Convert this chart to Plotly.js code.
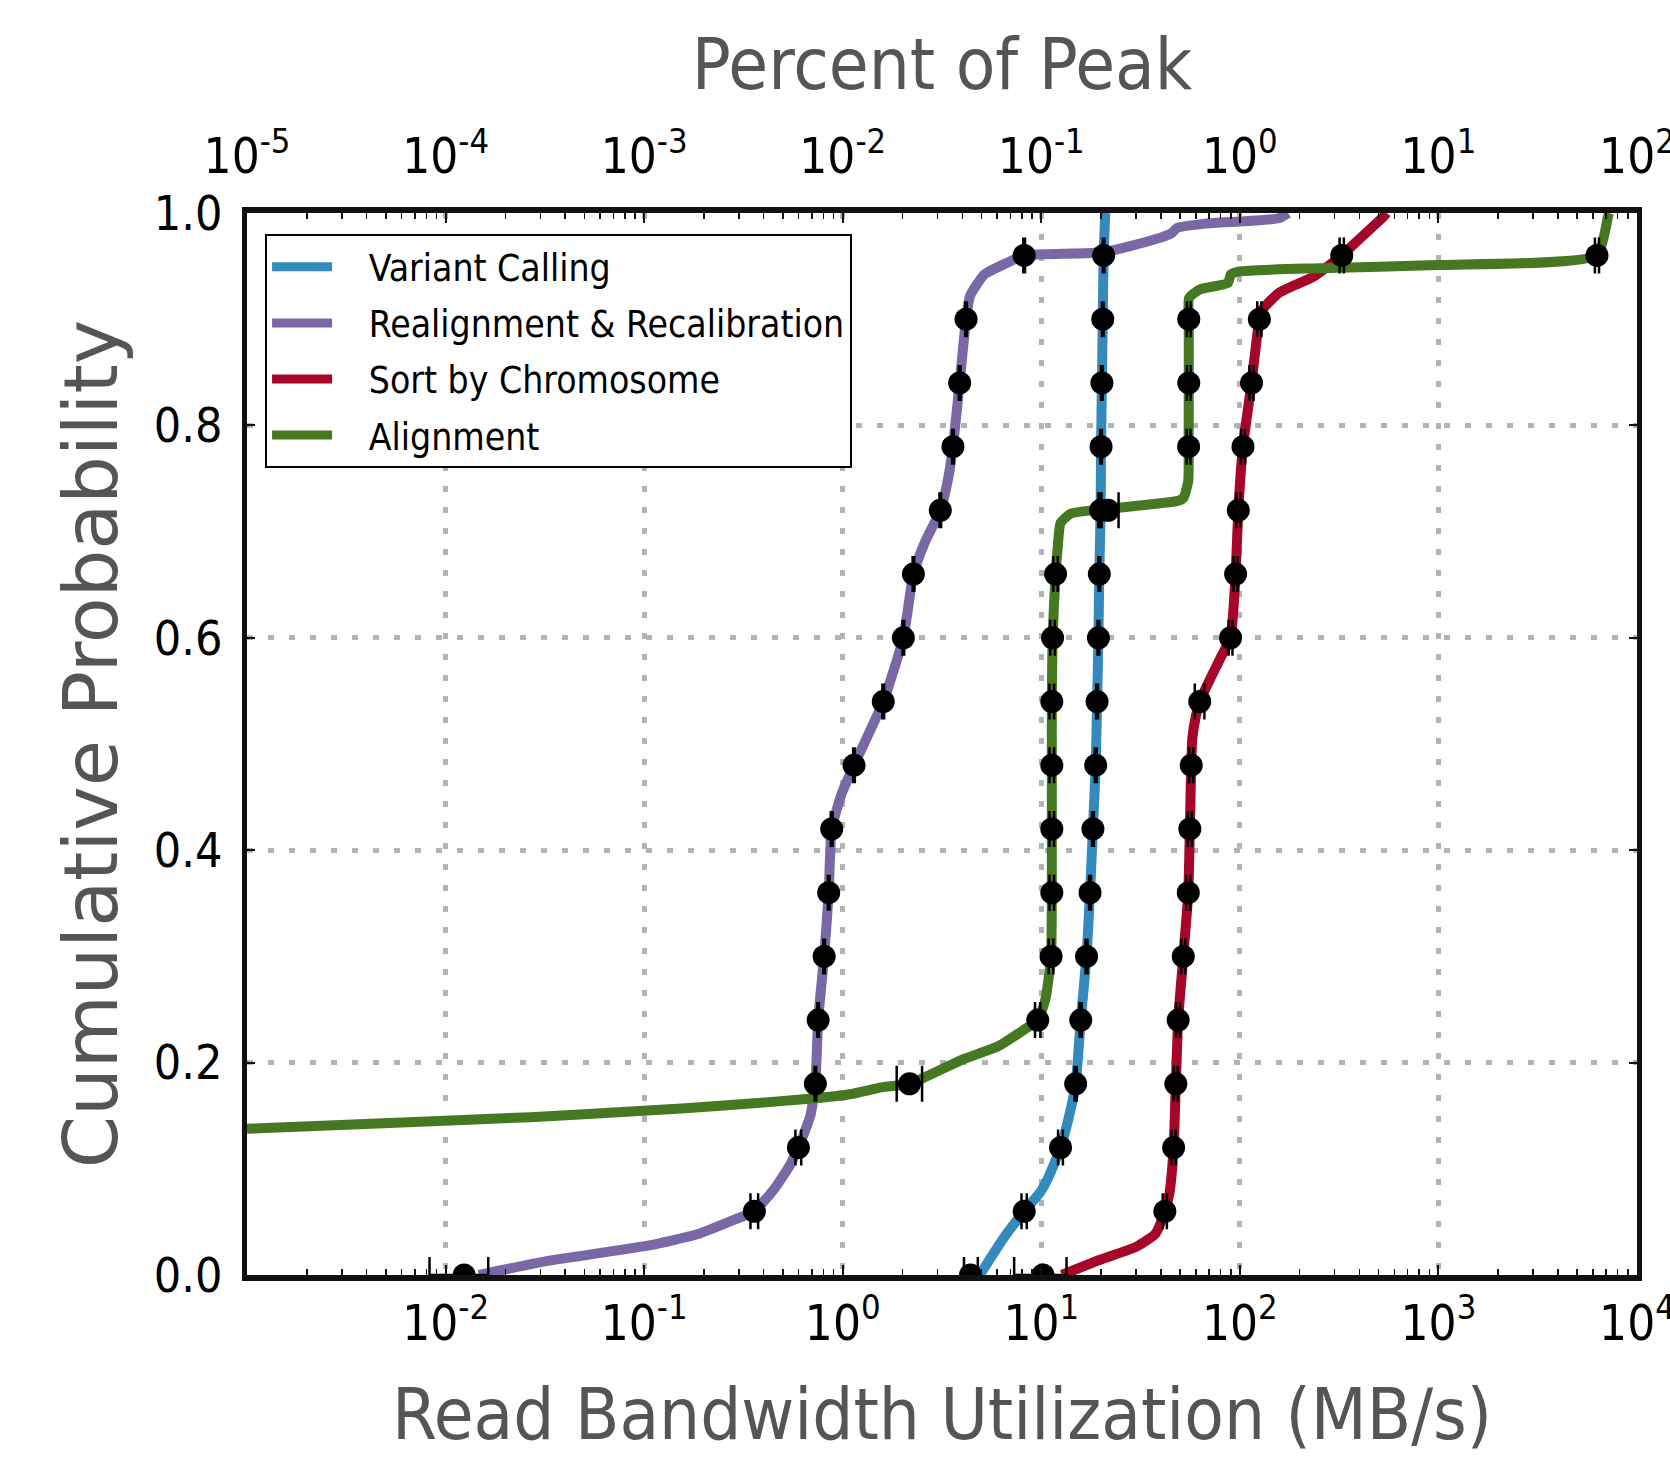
<!DOCTYPE html>
<html><head><meta charset="utf-8">
<script src="https://cdn.plot.ly/plotly-3.0.1.min.js"></script>
<style>html,body{margin:0;padding:0;background:#fff}#chart{width:1670px;height:1464px}
#chart .legend path.js-line{stroke-width:9px !important}</style>
</head><body><div id="chart"></div>
<script>
// ---- data ----
const seriesNames = ['Variant Calling', 'Realignment & Recalibration', 'Sort by Chromosome', 'Alignment'];
const seriesColors = ['#348ABD', '#7A68A6', '#A60628', '#467821'];

const probLevels = [0, 0.06, 0.12, 0.18, 0.24, 0.30, 0.36, 0.42, 0.48, 0.54, 0.60, 0.66, 0.72, 0.78, 0.84, 0.90, 0.96];
const alignLevels = [0.18, 0.24, 0.30, 0.36, 0.42, 0.48, 0.54, 0.60, 0.66, 0.72, 0.78, 0.84, 0.90, 0.96];

// Variant Calling
const vcCurveX = [4.9, 6.47, 8.2, 9.8, 10.8, 12.5, 13.7, 14.9, 15.8, 16.9, 17.6, 18.2, 18.8, 19.1, 19.4, 19.6, 19.9, 20.0, 20.2, 20.4, 20.6, 21.0];
const vcCurveY = [0, 0.035, 0.06, 0.077, 0.091, 0.12, 0.147, 0.18, 0.24, 0.30, 0.36, 0.42, 0.48, 0.54, 0.60, 0.66, 0.72, 0.78, 0.84, 0.90, 0.96, 1.0];
const vcPointX = [4.4, 8.2, 12.5, 14.9, 15.8, 16.9, 17.6, 18.2, 18.8, 19.1, 19.4, 19.6, 19.9, 20.0, 20.2, 20.4, 20.6];
const vcErrMinus = [0.32, 0.25, 0.35, 0.2, 0.2, 0.2, 0.2, 0.2, 0.2, 0.2, 0.2, 0.2, 0.2, 0.2, 0.2, 0.2, 0.2];
const vcErrPlus  = [0.39, 0.25, 0.35, 0.2, 0.2, 0.2, 0.2, 0.2, 0.2, 0.2, 0.2, 0.2, 0.2, 0.2, 0.2, 0.2, 0.2];

// Realignment & Recalibration
const rrCurveX = [0.0147, 0.0318, 0.104, 0.187, 0.283, 0.359, 0.454, 0.542, 0.598, 0.687, 0.728, 0.752, 0.806, 0.85, 0.88, 0.987, 1.14, 1.6, 2.02, 2.27, 2.58, 3.10, 3.39, 3.59, 3.88, 4.18, 4.38, 5.16, 6.7, 8.2, 20.6, 37, 45.3, 48.3, 67, 157, 175];
const rrCurveY = [0, 0.0129, 0.0276, 0.0386, 0.0519, 0.06, 0.0815, 0.1034, 0.12, 0.15, 0.18, 0.24, 0.30, 0.36, 0.42, 0.453, 0.48, 0.54, 0.60, 0.66, 0.689, 0.72, 0.749, 0.78, 0.84, 0.90, 0.922, 0.942, 0.953, 0.96, 0.963, 0.975, 0.981, 0.986, 0.990, 0.995, 1.0];
const rrPointX = [0.0124, 0.359, 0.598, 0.728, 0.752, 0.806, 0.85, 0.88, 1.14, 1.6, 2.02, 2.27, 3.10, 3.59, 3.88, 4.18, 8.2];
const rrErrMinus = [0.0041, 0.016, 0.02, 0.007, 0.007, 0.008, 0.008, 0.009, 0.011, 0.016, 0.02, 0.02, 0.03, 0.035, 0.04, 0.04, 0.08];
const rrErrPlus  = [0.0040, 0.016, 0.02, 0.007, 0.007, 0.008, 0.008, 0.009, 0.011, 0.016, 0.02, 0.02, 0.03, 0.035, 0.04, 0.04, 0.08];

// Sort by Chromosome
const sbCurveX = [12.7, 19.6, 30.2, 37.6, 41.9, 44.2, 46.4, 47.6, 48.9, 51.9, 55.0, 56.0, 56.9, 57.6, 60.0, 62.8, 69.7, 81.4, 89.8, 95.2, 98.2, 103.7, 114.5, 125.4, 129.7, 158, 234.6, 326, 397, 532, 548];
const sbCurveY = [0, 0.0141, 0.0267, 0.039, 0.06, 0.077, 0.12, 0.18, 0.24, 0.30, 0.36, 0.42, 0.48, 0.505, 0.526, 0.54, 0.5585, 0.584, 0.60, 0.66, 0.72, 0.78, 0.84, 0.90, 0.909, 0.925, 0.94, 0.96, 0.975, 0.997, 1.0];
const sbPointX = [10.2, 41.9, 46.4, 47.6, 48.9, 51.9, 55.0, 56.0, 56.9, 62.8, 89.8, 95.2, 98.2, 103.7, 114.5, 125.4, 326];
const sbErrMinus = [2.9, 1.0, 1.1, 1.1, 1.1, 1.2, 1.3, 1.3, 1.3, 3.5, 2.0, 2.2, 2.3, 2.4, 2.7, 3.0, 8.0];
const sbErrPlus  = [3.2, 1.0, 1.1, 1.1, 1.1, 1.2, 1.3, 1.3, 1.3, 3.5, 2.0, 2.2, 2.3, 2.4, 2.7, 3.0, 8.0];

// Alignment
const alCurveX = [0.001, 0.00647, 0.0267, 0.104, 0.252, 0.728, 1.1, 1.57, 2.17, 4.03, 6.1, 8.2, 9.6, 10.5, 11.2, 11.3, 11.3, 11.3, 11.3, 11.4, 11.8, 12.1, 12.5, 14.1, 21.7, 49, 52.1, 55.0, 55.2, 55.3, 55.3, 55.5, 62.8, 87, 90, 99.5, 251, 996, 6290, 7150, 7250];
const alCurveY = [0.1377, 0.1439, 0.1486, 0.1548, 0.1595, 0.1664, 0.1704, 0.1767, 0.18, 0.203, 0.2156, 0.231, 0.24, 0.26, 0.30, 0.36, 0.42, 0.48, 0.54, 0.60, 0.66, 0.685, 0.708, 0.717, 0.7215, 0.729, 0.732, 0.748, 0.78, 0.84, 0.90, 0.92, 0.928, 0.934, 0.942, 0.945, 0.948, 0.951, 0.96, 0.997, 1.0];
const alPointX = [2.17, 9.6, 11.2, 11.3, 11.3, 11.3, 11.3, 11.4, 11.8, 21.7, 55.2, 55.3, 55.3, 6290];
const alErrMinus = [0.30, 0.3, 0.3, 0.3, 0.3, 0.3, 0.3, 0.3, 0.3, 2.3, 1.2, 1.2, 1.2, 150];
const alErrPlus  = [0.34, 0.3, 0.3, 0.3, 0.3, 0.3, 0.3, 0.3, 0.3, 2.8, 1.2, 1.2, 1.2, 150];

// axis ticks
const bwTickVals = [0.01, 0.1, 1, 10, 100, 1000, 10000];
const bwTickText = ['10<sup>-2</sup>', '10<sup>-1</sup>', '10<sup>0</sup>', '10<sup>1</sup>', '10<sup>2</sup>', '10<sup>3</sup>', '10<sup>4</sup>'];
const pctTickVals = [1e-5, 1e-4, 1e-3, 1e-2, 1e-1, 1, 10, 100];
const pctTickText = ['10<sup>-5</sup>', '10<sup>-4</sup>', '10<sup>-3</sup>', '10<sup>-2</sup>', '10<sup>-1</sup>', '10<sup>0</sup>', '10<sup>1</sup>', '10<sup>2</sup>'];
const probTickVals = [0, 0.2, 0.4, 0.6, 0.8, 1.0];

// ---- build ----
const FONT = '"DejaVu Sans Condensed", "DejaVu Sans", sans-serif';
const curves = [[vcCurveX, vcCurveY], [rrCurveX, rrCurveY], [sbCurveX, sbCurveY], [alCurveX, alCurveY]];
const points = [
  [vcPointX, probLevels, vcErrMinus, vcErrPlus],
  [rrPointX, probLevels, rrErrMinus, rrErrPlus],
  [sbPointX, probLevels, sbErrMinus, sbErrPlus],
  [alPointX, alignLevels, alErrMinus, alErrPlus]
];

const NB = '\u00a0\u00a0\u00a0';
const traces = [];
curves.forEach((c, i) => {
  traces.push({
    type: 'scatter', mode: 'lines', x: c[0], y: c[1], name: NB + seriesNames[i],
    legendgroup: 'g' + i,
    line: {color: seriesColors[i], width: 10, shape: 'spline', smoothing: 0.5},
    hoverinfo: 'skip'
  });
});
points.forEach((p, i) => {
  traces.push({
    type: 'scatter', mode: 'markers', x: p[0], y: p[1], showlegend: false,
    legendgroup: 'g' + i,
    marker: {color: '#000', size: 23, symbol: 'circle'},
    error_x: {type: 'data', symmetric: false, array: p[3], arrayminus: p[2], color: '#000', thickness: 2.5, width: 18},
    hoverinfo: 'skip'
  });
});
// empty trace that carries the top (percent of peak) axis
traces.push({type: 'scatter', mode: 'markers', x: [], y: [], xaxis: 'x2', yaxis: 'y', showlegend: false, hoverinfo: 'skip'});

const gridCommon = {showgrid: true, gridcolor: '#b3b3b3', gridwidth: 5, griddash: '6px,15px'};

const layout = {
  width: 1670, height: 1464,
  margin: {l: 247, r: 33, t: 213, b: 189, autoexpand: false},
  paper_bgcolor: '#fff', plot_bgcolor: '#fff',
  showlegend: true,
  legend: {
    x: 0.013, y: 0.98, xanchor: 'left', yanchor: 'top',
    bgcolor: '#fff', bordercolor: '#000', borderwidth: 2,
    font: {family: FONT, size: 37, color: '#000'},
    tracegroupgap: 5, itemwidth: 60
  },
  xaxis: Object.assign({
    type: 'log', range: [-3.0001, 4.0001], tickmode: 'array', tickvals: bwTickVals, ticktext: bwTickText,
    showline: true, linewidth: 6, linecolor: '#111', mirror: false,
    ticks: 'inside', ticklen: 10, tickwidth: 2, tickcolor: '#111',
    minor: {dtick: 'D1', ticks: 'inside', ticklen: 6, tickwidth: 1.5, tickcolor: '#111', showgrid: false},
    zeroline: false, automargin: false, ticklabeloverflow: 'allow',
    tickfont: {family: FONT, size: 49, color: '#000'},
    ticklabelstandoff: 0,
    title: {text: 'Read Bandwidth Utilization (MB/s)', font: {family: FONT, size: 72, color: '#555555'}, standoff: 40}
  }, gridCommon),
  xaxis2: {
    type: 'log', range: [-5.0001, 2.0001], overlaying: 'x', side: 'top', anchor: 'y',
    tickmode: 'array', tickvals: pctTickVals, ticktext: pctTickText,
    showline: true, linewidth: 6, linecolor: '#111',
    ticks: 'inside', ticklen: 10, tickwidth: 2, tickcolor: '#111',
    minor: {dtick: 'D1', ticks: 'inside', ticklen: 6, tickwidth: 1.5, tickcolor: '#111', showgrid: false},
    showgrid: false, zeroline: false, automargin: false, ticklabeloverflow: 'allow',
    tickfont: {family: FONT, size: 49, color: '#000'},
    ticklabelstandoff: 14,
    title: {text: 'Percent of Peak', font: {family: FONT, size: 72, color: '#555555'}, standoff: 10}
  },
  yaxis: Object.assign({
    range: [0, 1], tickmode: 'array', tickvals: probTickVals, tickformat: '.1f',
    showline: true, linewidth: 5, linecolor: '#111', mirror: 'ticks',
    ticks: 'inside', ticklen: 8, tickwidth: 2, tickcolor: '#111',
    zeroline: false, automargin: false,
    tickfont: {family: FONT, size: 48, color: '#000'},
    ticklabelstandoff: 10,
    title: {text: 'Cumulative Probability', font: {family: '"DejaVu Sans", sans-serif', size: 75, color: '#555555'}, standoff: 13}
  }, gridCommon)
};

function thickenLegend() {
  document.querySelectorAll('#chart .legend path.js-line').forEach(p => {
    p.style.setProperty('stroke-width', '9px', 'important');
  });
}
Plotly.newPlot('chart', traces, layout, {displayModeBar: false, staticPlot: true}).then(gd => {
  thickenLegend();
  gd.on('plotly_afterplot', thickenLegend);
  setTimeout(thickenLegend, 30);
});
</script>
</body></html>
